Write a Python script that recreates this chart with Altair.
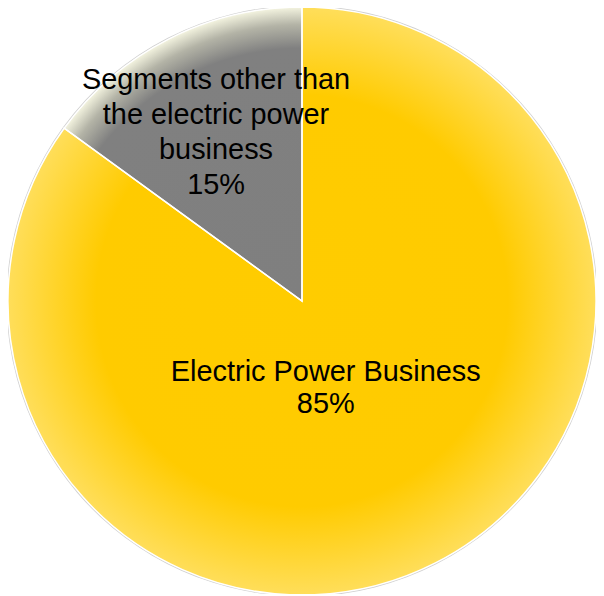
import altair as alt
import pandas as pd

categories = ["Electric Power Business", "Segments other than the electric power business"]
values = [85, 15]
labels = ["Electric Power Business\n85%", "Segments other than\nthe electric power\nbusiness\n15%"]

df = pd.DataFrame({"category": categories, "value": values, "label": labels})

R = 295
FONT = "Liberation Sans"

yellow_grad = {
    "gradient": "radial",
    "x1": 0.5, "y1": 0.5, "r1": 0,
    "x2": 0.5, "y2": 0.5, "r2": 0.5,
    "stops": [
        {"offset": 0, "color": "#FFCC00"},
        {"offset": 0.70, "color": "#FFCB00"},
        {"offset": 1, "color": "#FFDE5A"},
    ],
}
gray_grad = {
    "gradient": "radial",
    "x1": 0.5, "y1": 0.5, "r1": 0,
    "x2": 0.5, "y2": 0.5, "r2": 0.5,
    "stops": [
        {"offset": 0, "color": "#7F7F7F"},
        {"offset": 0.86, "color": "#808080"},
        {"offset": 0.94, "color": "#B3B3A6"},
        {"offset": 1, "color": "#F4F4E0"},
    ],
}

base = alt.Chart(df).transform_stack(
    stack="value", groupby=[], as_=["v0", "v1"]
).transform_calculate(mid="(datum.v0 + datum.v1) / 2")

theta_scale = alt.Scale(domain=[0, 100])

# soft outer shadow ring
shadow = base.mark_arc(color="#D0D0D0").encode(
    theta=alt.Theta("v0:Q", scale=theta_scale),
    theta2="v1:Q",
    radius=alt.value(R + 1.5),
)

# full disk carrying the gray radial gradient (a square bounding box keeps it circular)
disk = alt.Chart(df).transform_aggregate(
    total="sum(value)"
).transform_calculate(start="0").mark_arc(color=gray_grad).encode(
    theta=alt.Theta("start:Q", scale=theta_scale),
    theta2="total:Q",
    radius=alt.value(R),
)

def slice_layer(cat, fill):
    return base.transform_filter(alt.datum.category == cat).mark_arc(
        color=fill, stroke="white", strokeWidth=1.5
    ).encode(
        theta=alt.Theta("v0:Q", scale=theta_scale),
        theta2="v1:Q",
        radius=alt.value(R),
    )

def text_layer(cat, rad, dx, dy, lh):
    return base.transform_filter(alt.datum.category == cat).mark_text(
        font=FONT, fontSize=29, color="black", lineBreak="\n",
        lineHeight=lh, align="center", baseline="middle", dx=dx, dy=dy
    ).encode(
        theta=alt.Theta("mid:Q", scale=theta_scale),
        radius=alt.value(rad),
        text="label:N",
    )

gray_slice = base.transform_filter(alt.datum.category == categories[1]).mark_arc(
    fillOpacity=0, stroke="white", strokeWidth=1.5
).encode(
    theta=alt.Theta("v0:Q", scale=theta_scale),
    theta2="v1:Q",
    radius=alt.value(R),
)

chart = alt.layer(
    shadow,
    disk,
    slice_layer(categories[0], yellow_grad),
    gray_slice,
    text_layer(categories[0], 90, -17, -9, 32),
    text_layer(categories[1], 190, 0, -52, 35),
).properties(
    width=590, height=586, autosize="none", padding=0
).configure_view(stroke=None)

chart.save("out.html", embed_options={"renderer": "svg", "actions": False})
